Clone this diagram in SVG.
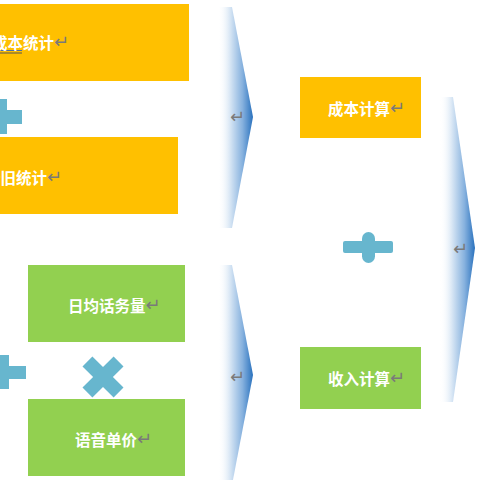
<svg xmlns="http://www.w3.org/2000/svg" width="480" height="480" viewBox="0 0 480 480">
<defs>
<linearGradient id="chev" x1="0" y1="0" x2="1" y2="0">
<stop offset="0" stop-color="#ffffff" stop-opacity="0"/>
<stop offset="0.35" stop-color="#D6E5F4"/>
<stop offset="0.7" stop-color="#86B1DE"/>
<stop offset="1" stop-color="#2A72BE"/>
</linearGradient>
<style>
.yel{fill:#FFC000}
.grn{fill:#92D050}
.lbl{font-family:"Noto Sans CJK SC","Noto Sans",sans-serif;font-size:15.5px;font-weight:bold;fill:#ffffff}
.ret{font-family:"DejaVu Sans",sans-serif;font-size:18px;font-weight:normal;fill:#7A7A7A}
.op{fill:#67B6CE}
.chev{fill:url(#chev)}
</style>
</defs>
<rect width="480" height="480" fill="#ffffff"/>

<g id="connectors">
<g id="chevron1">
<polygon class="chev" points="218,7 232,7 253,117 232,228 218,228"/>
<text class="ret" x="230" y="123">↵</text>
</g>
<g id="chevron2">
<polygon class="chev" points="218,265 232,265 253,375 232,485 218,485"/>
<text class="ret" x="230" y="383">↵</text>
</g>
<g id="chevron3">
<polygon class="chev" points="440,97 453,97 475,248 453,402 440,402"/>
<text class="ret" x="453" y="255">↵</text>
</g>
<g id="plus-top-left">
<path class="op" d="M-6,99 H7 V110 H22 V124 H7 V134 H-6 V124 H-20 V110 H-6 Z"/>
</g>
<g id="plus-bottom-left">
<path class="op" d="M-5,355 H9 V366 H26 V379 H9 V389 H-5 V379 H-20 V366 H-5 Z"/>
</g>
<g id="times">
<path class="op" transform="translate(103,377) rotate(45)" d="M-7,-22 H7 V-7 H22 V7 H7 V22 H-7 V7 H-22 V-7 H-7 Z"/>
</g>
<g id="plus-middle">
<rect class="op" x="343" y="241" width="50" height="12" rx="2"/>
<rect class="op" x="362" y="232" width="13" height="31" rx="6.5"/>
</g>
</g>

<g id="node-cost-stat">
<rect class="yel" x="-2" y="4" width="191" height="77"/>
<line x1="0" y1="50.5" x2="22" y2="50.5" stroke="#4A6FA5" stroke-width="1"/>
<line x1="0" y1="53" x2="22" y2="53" stroke="#555555" stroke-width="1"/>
<text class="lbl" x="-8" y="49">成本统计<tspan class="ret" dx="0" dy="-1">↵</tspan></text>
</g>

<g id="node-depreciation">
<rect class="yel" x="-2" y="137" width="180" height="77"/>
<text class="lbl" x="-15" y="184">折旧统计<tspan class="ret" dx="0" dy="-1">↵</tspan></text>
</g>

<g id="node-daily-traffic">
<rect class="grn" x="28" y="265" width="157" height="77"/>
<text class="lbl" x="68" y="312">日均话务量<tspan class="ret" dx="0" dy="-1">↵</tspan></text>
</g>

<g id="node-voice-price">
<rect class="grn" x="28" y="399" width="157" height="77"/>
<text class="lbl" x="75" y="446">语音单价<tspan class="ret" dx="0" dy="-1">↵</tspan></text>
</g>

<g id="node-cost-calc">
<rect class="yel" x="300" y="77" width="121" height="61"/>
<text class="lbl" x="328" y="115">成本计算<tspan class="ret" dx="0" dy="-1">↵</tspan></text>
</g>

<g id="node-income-calc">
<rect class="grn" x="300" y="347" width="121" height="62"/>
<text class="lbl" x="328" y="385">收入计算<tspan class="ret" dx="0" dy="-1">↵</tspan></text>
</g>
</svg>
